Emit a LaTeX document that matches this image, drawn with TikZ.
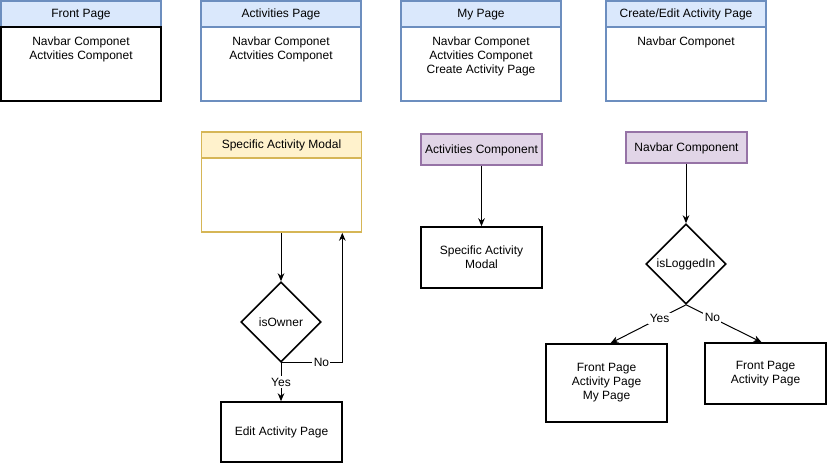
\documentclass[tikz,border=0pt]{standalone}
\usepackage{fontspec}
\setmainfont{Liberation Sans}
\usetikzlibrary{shapes.geometric,arrows.meta}
\definecolor{headblue}{HTML}{DAE8FC}
\definecolor{lineblue}{HTML}{6C8EBF}
\definecolor{headyellow}{HTML}{FFF2CC}
\definecolor{lineyellow}{HTML}{D6B656}
\definecolor{fillpurple}{HTML}{E1D5E7}
\definecolor{linepurple}{HTML}{9673A6}
\begin{document}
\begin{tikzpicture}[x=0.75pt,y=-0.75pt,
	every node/.style={font=\fontsize{9}{10.5}\selectfont, align=center},
	pagehead/.style={draw=lineblue, fill=headblue, line width=1.2pt, minimum width=120pt, minimum height=19.5pt, inner sep=0pt, text height=6.5pt, text depth=0.5pt},
	pagebody/.style={draw=lineblue, fill=white, line width=1.2pt, minimum width=120pt, minimum height=55.5pt, inner sep=0pt},
	modalhead/.style={pagehead, draw=lineyellow, fill=headyellow},
	modalbody/.style={pagebody, draw=lineyellow},
	compbox/.style={draw=linepurple, fill=fillpurple, line width=1.2pt, minimum width=90.75pt, minimum height=23.25pt, inner sep=0pt, text height=6.5pt, text depth=0.5pt},
	plainbox/.style={draw=black, line width=1.2pt, minimum width=90.75pt, inner sep=0pt},
	decision/.style={diamond, draw=black, line width=1.2pt, minimum size=60pt, inner sep=0pt},
	bodytext/.style={anchor=north, inner sep=0pt},
	arrow/.style={-{Stealth[length=6pt,width=5pt]}, line width=0.75pt},
	edgelabel/.style={fill=white, inner sep=1pt}]
	\useasboundingbox (0,0) rectangle (827,463);
	\node[pagehead] (fronthead) at (81,14) {Front Page};
	\node[pagebody, draw=black] (frontbody) at (81,64) {};
	\node[bodytext] at ([yshift=-7.5pt]frontbody.north) {Navbar Componet\\Actvities Componet};
	\node[pagehead] (acthead) at (281,14) {Activities Page};
	\node[pagebody] (actbody) at (281,64) {};
	\node[bodytext] at ([yshift=-7.5pt]actbody.north) {Navbar Componet\\Actvities Componet};
	\node[pagehead] (myhead) at (481,14) {My Page};
	\node[pagebody] (mybody) at (481,64) {};
	\node[bodytext] at ([yshift=-7.5pt]mybody.north) {Navbar Componet\\Actvities Componet\\Create Activity Page};
	\node[pagehead] (edithead) at (686,14) {Create/Edit Activity Page};
	\node[pagebody] (editbody) at (686,64) {};
	\node[bodytext] at ([yshift=-7.5pt]editbody.north) {Navbar Componet};
	\node[modalhead] (modalhead) at (281.5,145) {Specific Activity Modal};
	\node[modalbody] (modalbody) at (281.5,195) {};
	\node[decision] (isowner) at (281,322) {isOwner};
	\node[plainbox, minimum height=45pt] (editpage) at (281.5,432) {Edit Activity Page};
	\coordinate (backup) at ([xshift=-15pt]modalbody.south east);
	\draw[arrow] (modalbody.south -| isowner.north) -- (isowner.north);
	\draw[arrow] (isowner.south) -| node[pos=0.33, edgelabel] {No} (backup);
	\draw[arrow] (isowner.south) -- node[midway, edgelabel] {Yes} (editpage.north -| isowner.south);
	\node[compbox] (actcomp) at (481.5,149.5) {Activities Component};
	\node[plainbox, minimum height=45.75pt] (modalbox) at (481.5,257.5) {Specific Activity\\Modal};
	\draw[arrow] (actcomp) -- (modalbox);
	\node[compbox] (navcomp) at (686.5,147.5) {Navbar Component};
	\node[decision] (isloggedin) at (686,264) {isLoggedIn};
	\node[plainbox, minimum height=58.5pt] (yesbox) at (606.5,383) {Front Page\\Activity Page\\My Page};
	\node[plainbox, minimum height=45.75pt] (nobox) at (765.5,373.5) {Front Page\\Activity Page};
	\draw[arrow] (navcomp.south -| isloggedin.north) -- (isloggedin.north);
	\draw[arrow] (isloggedin.south) -- node[pos=0.35, edgelabel] {Yes} ([xshift=3pt]yesbox.north);
	\draw[arrow] (isloggedin.south) -- node[pos=0.35, edgelabel] {No} ([xshift=-3pt]nobox.north);
\end{tikzpicture}
\end{document}
